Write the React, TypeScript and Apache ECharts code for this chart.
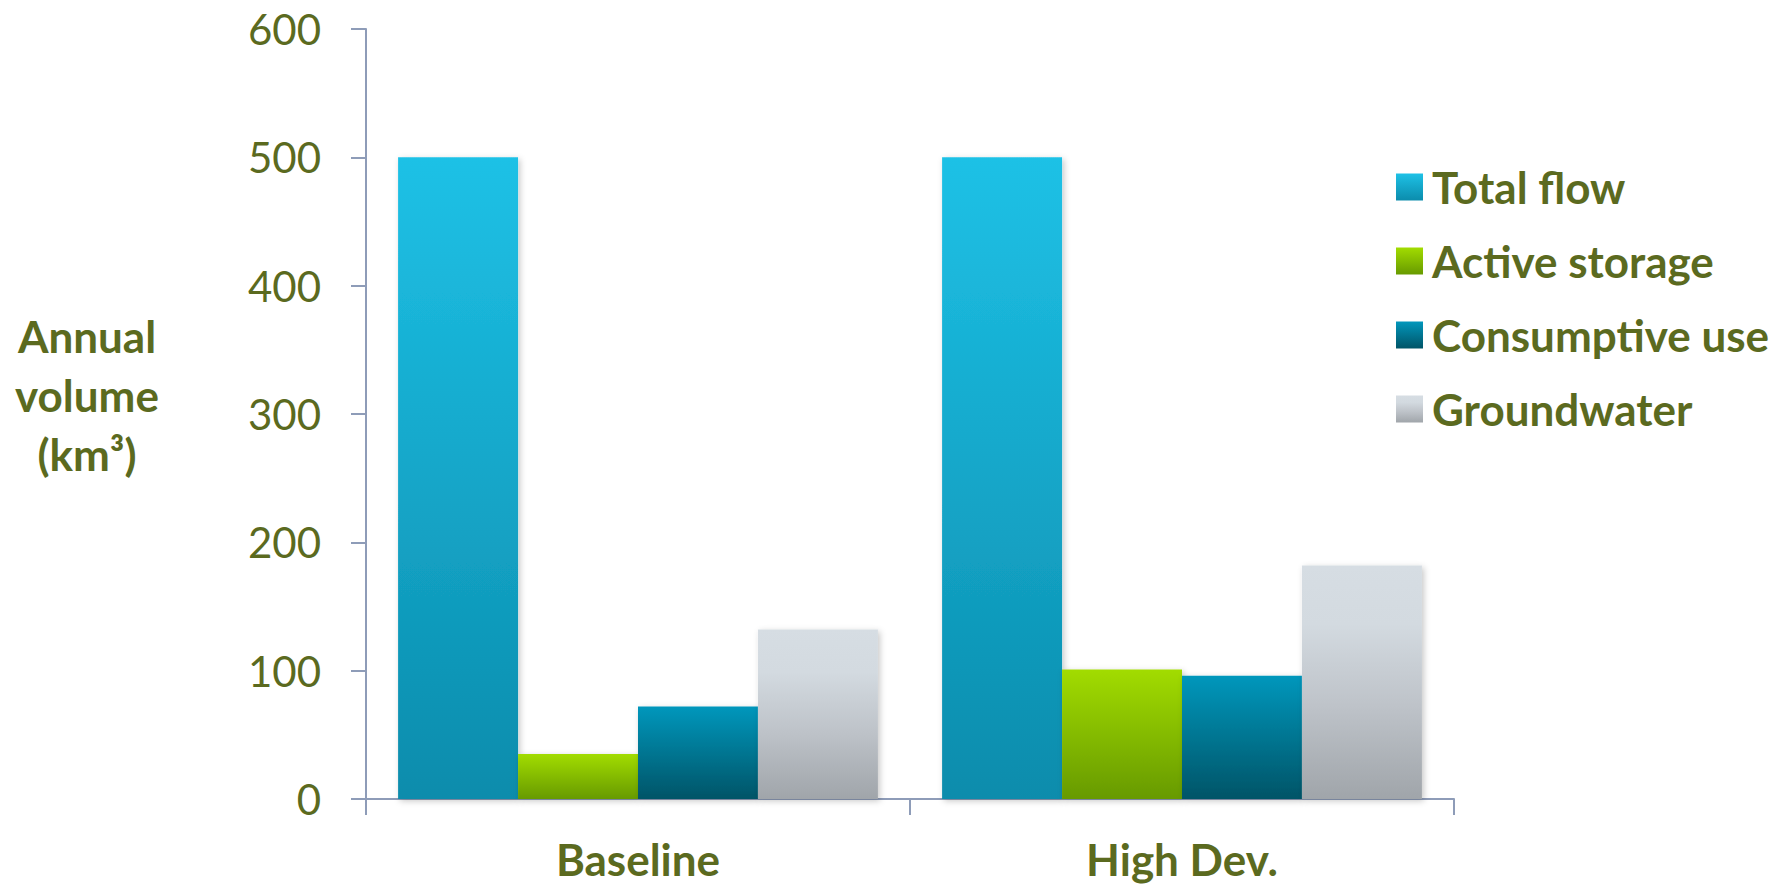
import React, { useEffect, useRef } from "react";
import * as echarts from "echarts";

const categories = ["Baseline", "High Dev."];
const seriesNames = ["Total flow", "Active storage", "Consumptive use", "Groundwater"];
const totalFlow = [500, 500];
const activeStorage = [35, 101];
const consumptiveUse = [72, 96];
const groundwater = [132, 182];
const yTicks = { min: 0, max: 600, interval: 100 };
const yTitle = "Annual\nvolume\n(km³)";

const TEXT = "#5B6A1F";
const AXIS = "#8E9CB8";
const FONT = "Lato, 'Open Sans', sans-serif";

const grad = (stops: [number, string][]) =>
  new echarts.graphic.LinearGradient(0, 0, 0, 1, stops.map(([offset, color]) => ({ offset, color })));

const gradients = [
  grad([[0, "#1EC1E6"], [1, "#0B8CAC"]]),
  grad([[0, "#A2DC00"], [1, "#679A00"]]),
  grad([[0, "#0297BC"], [1, "#005467"]]),
  grad([[0, "#D6DDE3"], [0.25, "#D3DAE0"], [0.6, "#BEC3C9"], [1, "#A0A5AA"]]),
];

const seriesData = [totalFlow, activeStorage, consumptiveUse, groundwater];

export default function App() {
  const ref = useRef<HTMLDivElement>(null);
  useEffect(() => {
    if (!ref.current) return;
    const chart = echarts.init(ref.current, undefined, { renderer: "svg" });
    chart.setOption({
      animation: false,
      backgroundColor: "#ffffff",
      grid: { left: 366, right: 333, top: 29, bottom: 88, containLabel: false },
      legend: {
        orient: "vertical",
        left: 1391,
        top: 160,
        itemWidth: 27,
        itemHeight: 27,
        itemGap: 30,
        icon: "rect",
        data: seriesNames,
        textStyle: {
          color: TEXT,
          fontFamily: FONT,
          fontWeight: "bold",
          fontSize: 44,
          lineHeight: 44,
          padding: [0, 0, 0, 4],
        },
      },
      graphic: [
        {
          type: "text",
          x: 87,
          y: 395,
          style: {
            text: yTitle,
            fill: TEXT,
            fontFamily: FONT,
            fontSize: 44,
            fontWeight: "bold",
            lineHeight: 59,
            align: "center",
            verticalAlign: "middle",
          },
        },
      ],
      xAxis: {
        type: "category",
        data: categories,
        axisLine: { show: true, lineStyle: { color: AXIS, width: 2 } },
        axisTick: { show: true, length: 16, lineStyle: { color: AXIS, width: 2 } },
        axisLabel: {
          color: TEXT,
          fontFamily: FONT,
          fontWeight: "bold",
          fontSize: 44,
          margin: 38,
        },
      },
      yAxis: {
        type: "value",
        min: yTicks.min,
        max: yTicks.max,
        interval: yTicks.interval,
        axisLine: { show: true, lineStyle: { color: AXIS, width: 2 } },
        axisTick: { show: true, length: 15, lineStyle: { color: AXIS, width: 2 } },
        splitLine: { show: false },
        axisLabel: {
          color: TEXT,
          fontFamily: FONT,
          fontSize: 42,
          margin: 45,
        },
      },
      series: seriesNames.map((name, i) => ({
        name,
        type: "bar",
        data: seriesData[i],
        barGap: "0%",
        barCategoryGap: "11.8%",
        itemStyle: {
          color: gradients[i],
          shadowBlur: 6,
          shadowColor: "rgba(0,0,0,0.22)",
          shadowOffsetX: 2,
          shadowOffsetY: 2,
        },
      })),
    });
    return () => chart.dispose();
  }, []);
  return (
    <div
      ref={ref}
      style={{ position: "absolute", left: 0, top: 0, width: 1787, height: 887 }}
    />
  );
}
